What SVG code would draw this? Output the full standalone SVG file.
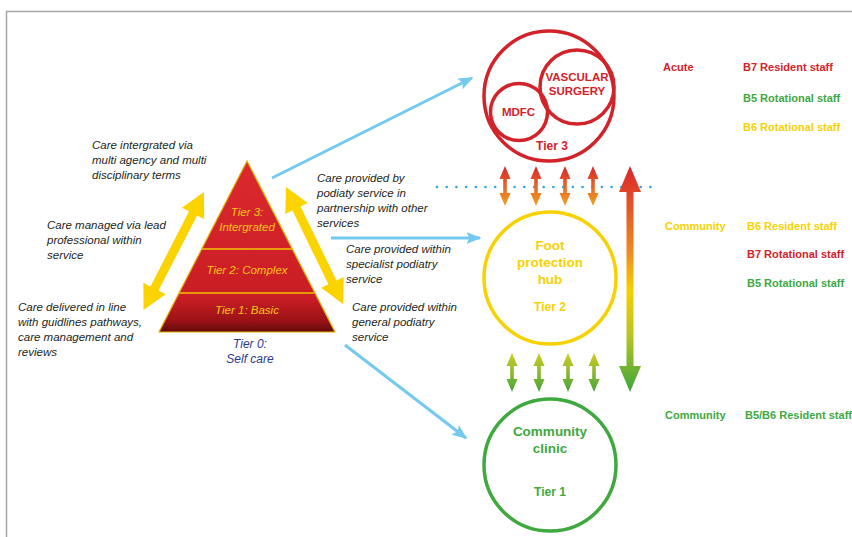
<svg xmlns="http://www.w3.org/2000/svg" width="852" height="537" viewBox="0 0 852 537">
<defs>
<style>
.desc{font-family:"Liberation Sans",Arial,sans-serif;font-style:italic;font-size:11.5px;fill:#231f20}
.lbl{font-family:"Liberation Sans",Arial,sans-serif;font-weight:bold;font-size:11px}
.ctext{font-family:"Liberation Sans",Arial,sans-serif;font-weight:bold;text-anchor:middle}
.ptext{font-family:"Liberation Sans",Arial,sans-serif;font-style:italic;font-size:11.5px;fill:#f9c51a;text-anchor:middle}
.t0{font-family:"Liberation Sans",Arial,sans-serif;font-style:italic;font-size:12px;fill:#2b3990;text-anchor:middle}
.red{fill:#d2232a}.grn{fill:#3fa83f}.yel{fill:#f7d200}
.blue{stroke:#74c9ef;stroke-width:3;fill:none;marker-end:url(#bh)}
.yarrow{fill:#fbd400}
</style>
<marker id="bh" viewBox="0 0 10 8" refX="9" refY="4" markerWidth="5" markerHeight="4" orient="auto">
<path d="M0,0 L10,4 L0,8 L2,4 z" fill="#74c9ef"/>
</marker>
<linearGradient id="pyr" gradientUnits="userSpaceOnUse" x1="0" y1="161" x2="0" y2="333">
<stop offset="0" stop-color="#dc2a2f"/>
<stop offset="0.8" stop-color="#c81d24"/>
<stop offset="0.93" stop-color="#9a1216"/>
<stop offset="1" stop-color="#5a0a0a"/>
</linearGradient>
<linearGradient id="gTop" gradientUnits="userSpaceOnUse" x1="0" y1="166" x2="0" y2="206">
<stop offset="0" stop-color="#d9262c"/>
<stop offset="1" stop-color="#f2a21f"/>
</linearGradient>
<linearGradient id="gBot" gradientUnits="userSpaceOnUse" x1="0" y1="353" x2="0" y2="392">
<stop offset="0" stop-color="#cfcc22"/>
<stop offset="1" stop-color="#45a63a"/>
</linearGradient>
<linearGradient id="gBig" gradientUnits="userSpaceOnUse" x1="0" y1="166" x2="0" y2="392">
<stop offset="0" stop-color="#d9262c"/>
<stop offset="0.38" stop-color="#ef8a22"/>
<stop offset="0.55" stop-color="#f6d000"/>
<stop offset="0.75" stop-color="#b8c424"/>
<stop offset="1" stop-color="#3da63c"/>
</linearGradient>
<path id="sTop" d="M0,166 L5.5,179 L1.8,179 L1.8,193 L5.5,193 L0,206 L-5.5,193 L-1.8,193 L-1.8,179 L-5.5,179 Z" fill="url(#gTop)"/>
<path id="sBot" d="M0,353 L5.5,366 L1.8,366 L1.8,379 L5.5,379 L0,392 L-5.5,379 L-1.8,379 L-1.8,366 L-5.5,366 Z" fill="url(#gBot)"/>
</defs>

<rect width="852" height="537" fill="#ffffff"/>
<path d="M6.5,537 V11.5 H852" fill="none" stroke="#a6a6a6" stroke-width="1.5"/>

<g id="connectors">
<line class="blue" x1="272" y1="178" x2="472" y2="78"/>
<line class="blue" x1="331" y1="238" x2="480" y2="238"/>
<line class="blue" x1="345" y1="345" x2="466" y2="438"/>
<polygon class="yarrow" transform="translate(204,192) rotate(117.15)" points="0,0 24,-12.5 24,-4.5 108.5,-4.5 108.5,-12.5 132.5,0 108.5,12.5 108.5,4.5 24,4.5 24,12.5"/>
<polygon class="yarrow" transform="translate(286,187) rotate(64.03)" points="0,0 24,-12.5 24,-4.5 106.1,-4.5 106.1,-12.5 130.1,0 106.1,12.5 106.1,4.5 24,4.5 24,12.5"/>
<line x1="437" y1="187" x2="656" y2="187" stroke="#2aa5df" stroke-width="2.6" stroke-linecap="round" stroke-dasharray="0 9.7"/>
<use href="#sTop" x="505"/>
<use href="#sTop" x="536"/>
<use href="#sTop" x="565"/>
<use href="#sTop" x="593"/>
<use href="#sBot" x="512"/>
<use href="#sBot" x="539"/>
<use href="#sBot" x="568"/>
<use href="#sBot" x="594"/>
<polygon points="630,166 641,192 633.5,192 633.5,366 641,366 630,392 619,366 626.5,366 626.5,192 619,192" fill="url(#gBig)"/>
</g>

<g id="pyramid">
<polygon points="247,161 159,332 335,332" fill="url(#pyr)" stroke="#e2b000" stroke-width="1.2"/>
<line x1="201.7" y1="249" x2="291.8" y2="249" stroke="#f2c200" stroke-width="1.5"/>
<line x1="179.1" y1="293" x2="314.2" y2="293" stroke="#f2c200" stroke-width="1.5"/>
<text class="ptext" x="247" y="216">Tier 3:</text>
<text class="ptext" x="247" y="231">Intergrated</text>
<text class="ptext" x="247" y="274">Tier 2: Complex</text>
<text class="ptext" x="247" y="314">Tier 1: Basic</text>
</g>

<g id="tier0">
<text class="t0" x="250" y="348">Tier 0:</text>
<text class="t0" x="250" y="363">Self care</text>
</g>

<g id="left-descriptions">
<text class="desc" x="92" y="149">Care intergrated via</text>
<text class="desc" x="92" y="164">multi agency and multi</text>
<text class="desc" x="92" y="179">disciplinary terms</text>
<text class="desc" x="47" y="229">Care managed via lead</text>
<text class="desc" x="47" y="244">professional within</text>
<text class="desc" x="47" y="259">service</text>
<text class="desc" x="18" y="311">Care delivered in line</text>
<text class="desc" x="18" y="326">with guidlines pathways,</text>
<text class="desc" x="18" y="341">care management and</text>
<text class="desc" x="18" y="356">reviews</text>
</g>

<g id="right-descriptions">
<text class="desc" x="317" y="182">Care provided by</text>
<text class="desc" x="317" y="197">podiaty service in</text>
<text class="desc" x="317" y="212">partnership with other</text>
<text class="desc" x="317" y="227">services</text>
<text class="desc" x="346" y="253">Care provided within</text>
<text class="desc" x="346" y="268">specialist podiatry</text>
<text class="desc" x="346" y="283">service</text>
<text class="desc" x="352" y="311">Care provided within</text>
<text class="desc" x="352" y="326">general podiatry</text>
<text class="desc" x="352" y="341">service</text>
</g>

<g id="tier3">
<circle cx="549" cy="96" r="65" fill="none" stroke="#d2232a" stroke-width="3.5"/>
<text class="ctext red" x="552" y="150" font-size="12">Tier 3</text>
</g>
<g id="vascular-surgery">
<circle cx="577" cy="87" r="37" fill="none" stroke="#d2232a" stroke-width="3.5"/>
<text class="ctext red" x="577" y="81" font-size="11.5">VASCULAR</text>
<text class="ctext red" x="577" y="95" font-size="11.5">SURGERY</text>
</g>
<g id="mdfc">
<circle cx="519" cy="112" r="28.5" fill="none" stroke="#d2232a" stroke-width="3.5"/>
<text class="ctext red" x="518.5" y="116" font-size="11.5">MDFC</text>
</g>

<g id="tier2-hub">
<circle cx="550" cy="278" r="66" fill="none" stroke="#f7d200" stroke-width="3.5"/>
<text class="ctext yel" x="550" y="250" font-size="13.5">Foot</text>
<text class="ctext yel" x="550" y="267" font-size="13.5">protection</text>
<text class="ctext yel" x="550" y="284" font-size="13.5">hub</text>
<text class="ctext yel" x="550" y="311" font-size="12">Tier 2</text>
</g>

<g id="tier1-clinic">
<circle cx="550" cy="465" r="66" fill="none" stroke="#3fa83f" stroke-width="3.5"/>
<text class="ctext grn" x="550" y="436" font-size="13.5">Community</text>
<text class="ctext grn" x="550" y="453" font-size="13.5">clinic</text>
<text class="ctext grn" x="550" y="496" font-size="12">Tier 1</text>
</g>

<g id="staffing">
<text class="lbl red" x="663" y="71">Acute</text>
<text class="lbl red" x="743" y="71">B7 Resident staff</text>
<text class="lbl grn" x="743" y="102">B5 Rotational staff</text>
<text class="lbl yel" x="743" y="131">B6 Rotational staff</text>
<text class="lbl yel" x="665" y="230">Community</text>
<text class="lbl yel" x="747" y="230">B6 Resident staff</text>
<text class="lbl red" x="747" y="258">B7 Rotational staff</text>
<text class="lbl grn" x="747" y="287">B5 Rotational staff</text>
<text class="lbl grn" x="665" y="419">Community</text>
<text class="lbl grn" x="745" y="419">B5/B6 Resident staff</text>
</g>
</svg>
